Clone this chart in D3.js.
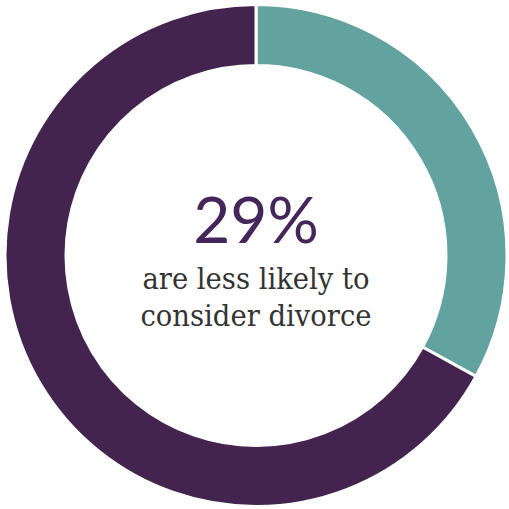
<!DOCTYPE html>
<html><head><meta charset="utf-8">
<script src="https://cdn.jsdelivr.net/npm/d3@7"></script>
<style>html,body{margin:0;padding:0;background:#fff;}</style>
</head><body>
<svg id="c" width="509" height="509"></svg>
<script>
const categories = ["Less likely", "Other"];
const values = [33, 67];
const colors = ["#62a29f", "#43244f"];
const headline = "29%";
const subLines = ["are less likely to", "consider divorce"];

const svg = d3.select("#c");
const cx = 256, cy = 255.5, rOut = 251, rIn = 190;
const g = svg.append("g").attr("transform", `translate(${cx},${cy})`);
const pie = d3.pie().sort(null).value(d => d)(values);
const arc = d3.arc().innerRadius(rIn).outerRadius(rOut);
g.selectAll("path").data(pie).join("path")
  .attr("d", arc)
  .attr("fill", (d, i) => colors[i])
  .attr("stroke", "#fff").attr("stroke-width", 3);

g.append("text").attr("x", 0).attr("y", -13)
  .attr("text-anchor", "middle")
  .attr("font-family", "Lato").attr("font-weight", 400)
  .attr("font-size", 64).attr("fill", "#44265a").text(headline);
g.selectAll("text.sub").data(subLines).join("text").attr("class", "sub")
  .attr("x", 0).attr("y", (d, i) => 33 + i * 37)
  .attr("text-anchor", "middle")
  .attr("font-family", "DejaVu Serif").attr("font-stretch", "condensed")
  .attr("font-size", 30.5).attr("fill", "#333").text(d => d);
</script>
</body></html>
